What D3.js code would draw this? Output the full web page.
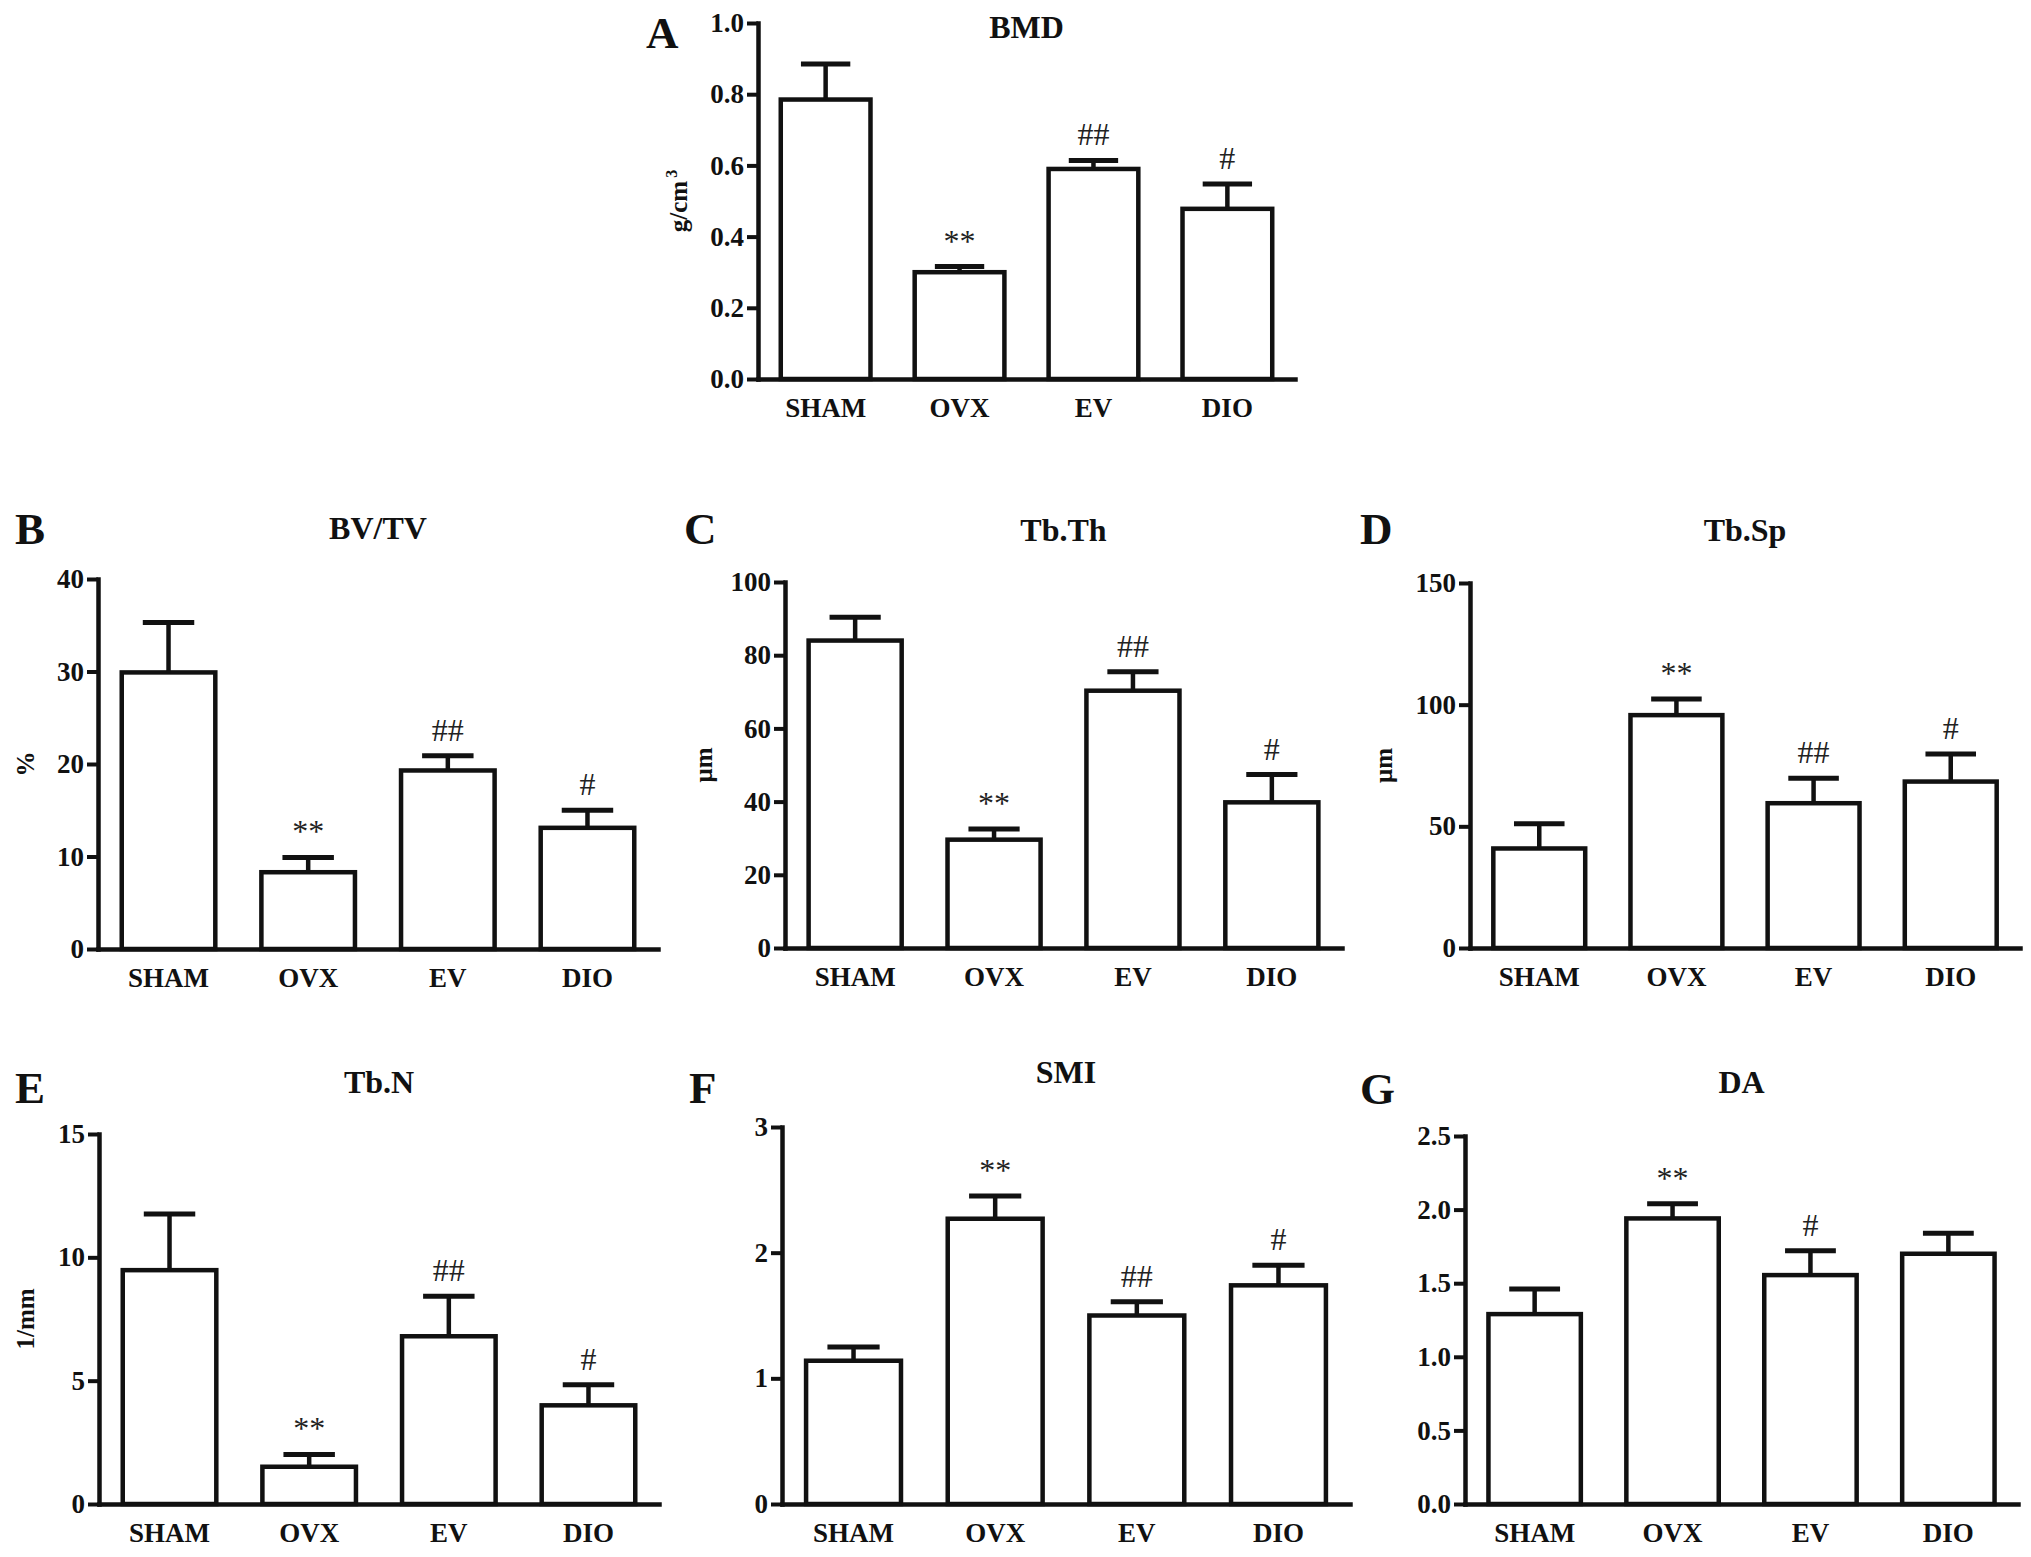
<!DOCTYPE html>
<html><head><meta charset="utf-8">
<script src="https://cdn.jsdelivr.net/npm/d3@7"></script>
<style>body{margin:0;background:#fff} svg{display:block}</style>
</head><body>
<svg id="c" width="2031" height="1557"></svg>
<script>
// ---------- data ----------
const categories = ["SHAM", "OVX", "EV", "DIO"];

const bmdMean = [0.785, 0.300, 0.590, 0.478];
const bmdErr  = [0.100, 0.016, 0.024, 0.070];
const bmdSig  = ["", "**", "##", "#"];
const bmdTicks = [0, 0.2, 0.4, 0.6, 0.8, 1.0];

const bvtvMean = [29.9, 8.3, 19.3, 13.1];
const bvtvErr  = [5.4, 1.6, 1.6, 1.9];
const bvtvSig  = ["", "**", "##", "#"];
const bvtvTicks = [0, 10, 20, 30, 40];

const tbthMean = [84.0, 29.6, 70.3, 39.8];
const tbthErr  = [6.4, 2.9, 5.2, 7.6];
const tbthSig  = ["", "**", "##", "#"];
const tbthTicks = [0, 20, 40, 60, 80, 100];

const tbspMean = [40.9, 95.7, 59.5, 68.4];
const tbspErr  = [10.2, 6.6, 10.3, 11.3];
const tbspSig  = ["", "**", "##", "#"];
const tbspTicks = [0, 50, 100, 150];

const tbnMean = [9.48, 1.51, 6.80, 4.00];
const tbnErr  = [2.28, 0.50, 1.62, 0.83];
const tbnSig  = ["", "**", "##", "#"];
const tbnTicks = [0, 5, 10, 15];

const smiMean = [1.14, 2.27, 1.50, 1.74];
const smiErr  = [0.11, 0.18, 0.11, 0.16];
const smiSig  = ["", "**", "##", "#"];
const smiTicks = [0, 1, 2, 3];

const daMean = [1.29, 1.94, 1.555, 1.70];
const daErr  = [0.17, 0.10, 0.165, 0.14];
const daSig  = ["", "**", "#", ""];
const daTicks = [0, 0.5, 1.0, 1.5, 2.0, 2.5];

// ---------- layout ----------
const FONT = "'Liberation Serif','Times New Roman',Times,serif";
const INK = "#111";
const SW = 4.5;

const panels = [
  {letter:"A", title:"BMD",   unit:"g/cm", sup:"3", mean:bmdMean, err:bmdErr, sig:bmdSig, ticks:bmdTicks, max:1.0, fmt:".1f",
   x0:758, x1:1295, yTop:23, yBot:379, lx:646, ly:48, ty:38, ux:687},
  {letter:"B", title:"BV/TV", unit:"%",  mean:bvtvMean, err:bvtvErr, sig:bvtvSig, ticks:bvtvTicks, max:40, fmt:"d",
   x0:98, x1:658, yTop:579, yBot:949, lx:15, ly:544, ty:539, ux:34},
  {letter:"C", title:"Tb.Th", unit:"\u03bcm", mean:tbthMean, err:tbthErr, sig:tbthSig, ticks:tbthTicks, max:100, fmt:"d",
   x0:785, x1:1342, yTop:582, yBot:948, lx:684, ly:544, ty:541, ux:712},
  {letter:"D", title:"Tb.Sp", unit:"\u03bcm", mean:tbspMean, err:tbspErr, sig:tbspSig, ticks:tbspTicks, max:150, fmt:"d",
   x0:1470, x1:2020, yTop:583, yBot:948, lx:1360, ly:544, ty:541, ux:1392},
  {letter:"E", title:"Tb.N",  unit:"1/mm", mean:tbnMean, err:tbnErr, sig:tbnSig, ticks:tbnTicks, max:15, fmt:"d",
   x0:99, x1:659, yTop:1134, yBot:1504, lx:15, ly:1103, ty:1093, ux:34},
  {letter:"F", title:"SMI",   unit:"", mean:smiMean, err:smiErr, sig:smiSig, ticks:smiTicks, max:3, fmt:"d",
   x0:782, x1:1350, yTop:1127, yBot:1504, lx:689, ly:1103, ty:1083, ux:0},
  {letter:"G", title:"DA",    unit:"", mean:daMean, err:daErr, sig:daSig, ticks:daTicks, max:2.5, fmt:".1f",
   x0:1465, x1:2018, yTop:1136, yBot:1504, lx:1360, ly:1104, ty:1093, ux:0}
];

const svg = d3.select("#c");
svg.append("rect").attr("width", 2031).attr("height", 1557).attr("fill", "#fff");

panels.forEach(p => {
  const g = svg.append("g");
  const x = d3.scaleBand().domain(categories).range([p.x0, p.x1]).paddingInner(0.33).paddingOuter(0.17);
  const y = d3.scaleLinear().domain([0, p.max]).range([p.yBot, p.yTop]);
  const rows = categories.map((c, i) => ({c, m: p.mean[i], e: p.err[i], s: p.sig[i]}));

  // bars
  g.selectAll("rect.bar").data(rows).join("rect")
    .attr("class", "bar")
    .attr("x", d => x(d.c))
    .attr("y", d => y(d.m))
    .attr("width", x.bandwidth())
    .attr("height", d => y(0) - y(d.m))
    .attr("fill", "#fff").attr("stroke", INK).attr("stroke-width", SW);

  // error bars (upper only)
  const cap = x.bandwidth() * 0.55;
  g.selectAll("line.ev").data(rows).join("line")
    .attr("class", "ev")
    .attr("x1", d => x(d.c) + x.bandwidth() / 2).attr("x2", d => x(d.c) + x.bandwidth() / 2)
    .attr("y1", d => y(d.m)).attr("y2", d => y(d.m + d.e))
    .attr("stroke", INK).attr("stroke-width", SW);
  g.selectAll("line.ec").data(rows).join("line")
    .attr("class", "ec")
    .attr("x1", d => x(d.c) + x.bandwidth() / 2 - cap / 2).attr("x2", d => x(d.c) + x.bandwidth() / 2 + cap / 2)
    .attr("y1", d => y(d.m + d.e)).attr("y2", d => y(d.m + d.e))
    .attr("stroke", INK).attr("stroke-width", SW + 0.5);

  // significance marks
  g.selectAll("text.sig").data(rows.filter(d => d.s)).join("text")
    .attr("class", "sig")
    .attr("x", d => x(d.c) + x.bandwidth() / 2)
    .attr("y", d => y(d.m + d.e) - 15)
    .attr("text-anchor", "middle")
    .attr("font-family", FONT).attr("font-size", 32).attr("fill", "#222")
    .text(d => d.s);

  // y axis
  const ya = g.append("g").attr("transform", `translate(${p.x0},0)`)
    .call(d3.axisLeft(y).tickValues(p.ticks).tickSize(11).tickSizeOuter(0).tickPadding(3)
      .tickFormat(d3.format(p.fmt)));
  ya.select(".domain").attr("stroke", INK).attr("stroke-width", SW).attr("stroke-linecap", "square");
  ya.selectAll(".tick line").attr("stroke", INK).attr("stroke-width", SW - 0.5);
  ya.selectAll(".tick text").attr("font-family", FONT).attr("font-size", 27).attr("font-weight", "bold").attr("fill", INK);

  // x axis
  const xa = g.append("g").attr("transform", `translate(0,${p.yBot})`)
    .call(d3.axisBottom(x).tickSize(0).tickSizeOuter(0).tickPadding(19));
  xa.select(".domain").attr("stroke", INK).attr("stroke-width", SW).attr("stroke-linecap", "square");
  xa.selectAll(".tick text").attr("font-family", FONT).attr("font-size", 27).attr("font-weight", "bold").attr("fill", INK);

  // panel letter
  g.append("text").attr("x", p.lx).attr("y", p.ly)
    .attr("font-family", FONT).attr("font-size", 45).attr("font-weight", "bold").attr("fill", INK)
    .text(p.letter);

  // title
  g.append("text").attr("x", (p.x0 + p.x1) / 2).attr("y", p.ty)
    .attr("text-anchor", "middle")
    .attr("font-family", FONT).attr("font-size", 32).attr("font-weight", "bold").attr("fill", INK)
    .text(p.title);

  // unit label
  if (p.unit) {
    const t = g.append("text")
      .attr("transform", `translate(${p.ux},${(p.yTop + p.yBot) / 2}) rotate(-90)`)
      .attr("text-anchor", "middle")
      .attr("font-family", FONT).attr("font-size", 25).attr("font-weight", "bold").attr("fill", INK);
    t.append("tspan").text(p.unit);
    if (p.sup) t.append("tspan").attr("font-size", 16).attr("dy", -10).attr("dx", 3).text(p.sup);
  }
});
</script>
</body></html>
